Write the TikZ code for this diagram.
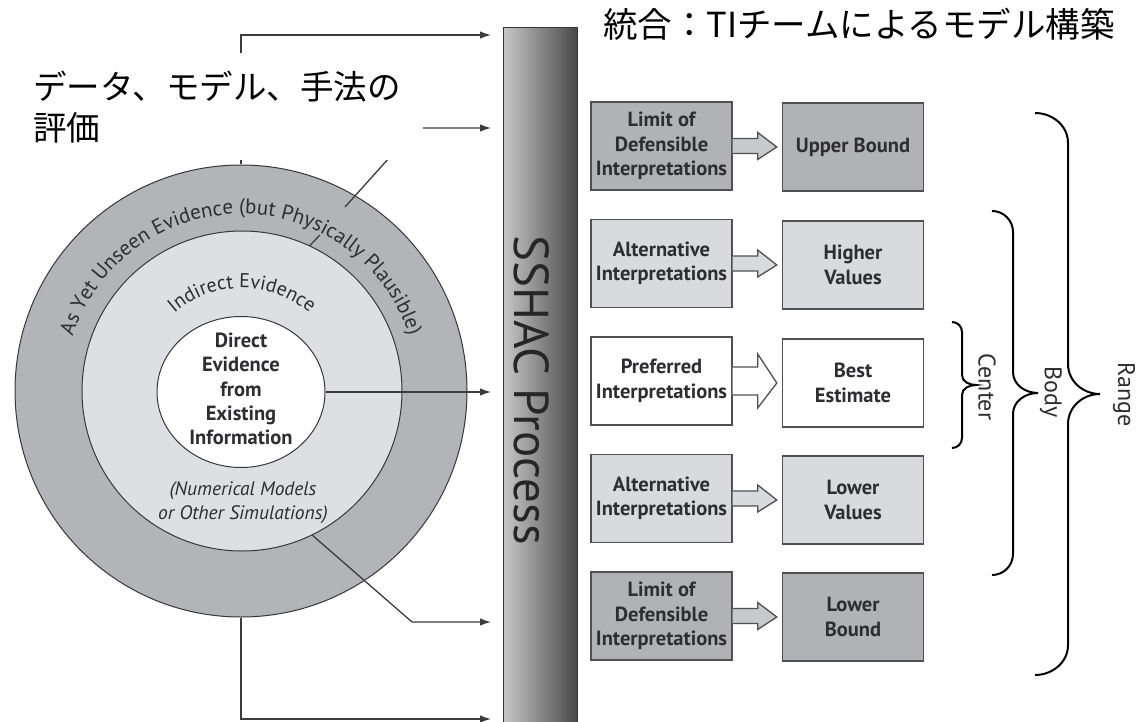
\documentclass[tikz,border=0pt]{standalone}
\usepackage{fontspec}
\setmainfont{PT Sans}
\newfontfamily\jp{Noto Sans CJK JP}
\usetikzlibrary{arrows.meta,calc,shapes.geometric,decorations.text}
\definecolor{ring}{RGB}{178,180,183}
\definecolor{midc}{RGB}{221,223,226}
\definecolor{dkbox}{RGB}{176,178,181}
\definecolor{ltbox}{RGB}{216,218,221}
\definecolor{dkarr}{RGB}{200,201,203}
\definecolor{edge}{RGB}{80,80,84}
\definecolor{circ}{RGB}{55,55,58}
\definecolor{lc}{RGB}{60,60,63}
\definecolor{txt}{RGB}{45,45,50}
\newcommand{\boxfont}{\fontsize{20.5}{24.5}\selectfont\bfseries}
\newcommand{\innerfont}{\fontsize{20.5}{24.3}\selectfont\bfseries}
\newcommand{\blockarr}[5]{%
  \draw[barrow, fill=#5] ($(#1.east)+(0,#3)$) -- ($(#1.east)+(25,#3)$) -- ($(#1.east)+(25,#4)$)
    -- ($(#2.west)+(-5,0)$) -- ($(#1.east)+(25,-#4)$) -- ($(#1.east)+(25,-#3)$) -- ($(#1.east)+(0,-#3)$);}
\newcommand{\mybrace}[7]{% xe, xv, xt, ytop, ymid, ybot, r
  \draw[brc] (#1,-#4) to[out=0,in=90] (#2,-#4-#7) -- (#2,-#5+#7) to[out=-90,in=180] (#3,-#5)
    to[out=180,in=90] (#2,-#5-#7) -- (#2,-#6+#7) to[out=-90,in=0] (#1,-#6);}
\begin{document}
\begin{tikzpicture}[x=1pt,y=1pt,
  conn/.style={draw=lc, line width=1.3pt, -{Latex[length=11pt,width=7.5pt]}, shorten >=12pt},
  plain/.style={draw=lc, line width=1.3pt},
  box/.style={draw=edge, line width=1.4pt, minimum width=141pt, minimum height=88pt, inner sep=0pt, align=center, text=txt, font=\boxfont},
  barrow/.style={draw=edge, line width=1.3pt, line join=miter},
  brc/.style={draw=black, line width=2pt},
  side/.style={rotate=-90, text=txt, font=\fontsize{24}{26}\selectfont}]
\useasboundingbox (0,0) rectangle (1140,-722);
\fill[white] (0,0) rectangle (1140,-722);

% circles
\node[circle, draw=circ, line width=1pt, fill=ring, minimum size=452pt, inner sep=0pt] (outer) at (241,-391) {};
\node[circle, draw=circ, line width=1pt, fill=midc, minimum size=320pt, inner sep=0pt] (middle) at (242,-391) {};
\node[ellipse, draw=circ, line width=1pt, fill=white, minimum width=168pt, minimum height=151pt, inner sep=0pt] (inner) at (241,-392) {};
\node[align=center, font=\innerfont, text=txt] (innertxt) at (241,-389) {Direct\\Evidence\\from\\Existing\\Information};
\node[align=center, font=\fontsize{19.5}{24}\selectfont\itshape, text=txt] (sim) at (243,-503) {(Numerical Models\\or Other Simulations)};
\path[decorate, decoration={text along path, text align=center,
  text={|\fontsize{21}{23}\selectfont\color{txt}|As Yet Unseen Evidence (but Physically Plausible)}}]
  ($(outer.center)+(180:177)$) arc[start angle=180, end angle=0, radius=177];
\path[decorate, decoration={text along path, text align=center,
  text={|\fontsize{20}{22}\selectfont\color{txt}|Indirect Evidence}}]
  ($(middle.center)+(180:103)$) arc[start angle=180, end angle=0, radius=103];

% SSHAC bar
\node[draw=circ, line width=1pt, left color=black!22, middle color=black!42, right color=black!72,
  minimum width=74pt, minimum height=710pt, anchor=north west, inner sep=0pt] (bar) at (503,-27) {};
\node[rotate=-90, anchor=base, font=\fontsize{49}{49}\selectfont, text=black!85] (sshac) at (514,-390) {SSHAC Process};

% connectors
\coordinate (t1) at (241,-35);
\coordinate (cA) at (320,-235);
\coordinate (cB) at (345,-207);
\coordinate (c2) at (416,-128);
\coordinate (c3) at (412,-622);
\coordinate (b1) at (241,-719);
\draw[conn] (outer.north) -- (t1) -- (bar.west |- t1);
\draw[plain] (middle.65) -- (cA);
\draw[conn] (cB) -- (c2) -- (bar.west |- c2);
\draw[conn] (inner.east) -- (bar.west |- inner.east);
\draw[conn] (middle.-64) -- (c3) -- (bar.west |- c3);
\draw[conn] (outer.south) -- (b1) -- (bar.west |- b1);

% Japanese label
\node[fill=white, anchor=north west, inner xsep=11pt, inner ysep=0pt, text width=379pt, minimum height=107pt,
  align=left, font=\jp\fontsize{33.5}{41}\selectfont] (lbl) at (22,-53) {データ、モデル、手法の\\評価};
\node[anchor=base west, inner sep=0pt, font=\jp\fontsize{34.5}{40}\selectfont] (title) at (603,-38) {統合：TIチームによるモデル構築};

% boxes
\node[box, fill=dkbox] (l1) at (661.5,-146) {Limit of\\Defensible\\Interpretations};
\node[box, fill=dkbox] (r1) at (853,-147) {Upper Bound};
\node[box, fill=ltbox] (l2) at (661.5,-263.5) {Alternative\\Interpretations};
\node[box, fill=ltbox] (r2) at (853,-265) {Higher\\Values};
\node[box, fill=white] (l3) at (661.5,-381) {Preferred\\Interpretations};
\node[box, fill=white] (r3) at (853,-383) {Best\\Estimate};
\node[box, fill=ltbox] (l4) at (661.5,-498.5) {Alternative\\Interpretations};
\node[box, fill=ltbox] (r4) at (853,-500) {Lower\\Values};
\node[box, fill=dkbox] (l5) at (661.5,-616) {Limit of\\Defensible\\Interpretations};
\node[box, fill=dkbox] (r5) at (853,-617) {Lower\\Bound};
\blockarr{l1}{r1}{7.5}{13.5}{dkarr}
\blockarr{l2}{r2}{7.5}{13.5}{ltbox}
\blockarr{l3}{r3}{14}{27}{white}
\blockarr{l4}{r4}{7.5}{13.5}{ltbox}
\blockarr{l5}{r5}{7.5}{13.5}{dkarr}

% braces
\mybrace{952}{962}{976}{322}{385}{448}{10}
\mybrace{992}{1013}{1038}{211}{393}{575}{21}
\mybrace{1035}{1068}{1100}{113}{394}{675}{30}
\node[side] (center) at (987,-387) {Center};
\node[side] (body) at (1051,-392) {Body};
\node[side] (range) at (1124,-395) {Range};
\end{tikzpicture}
\end{document}
